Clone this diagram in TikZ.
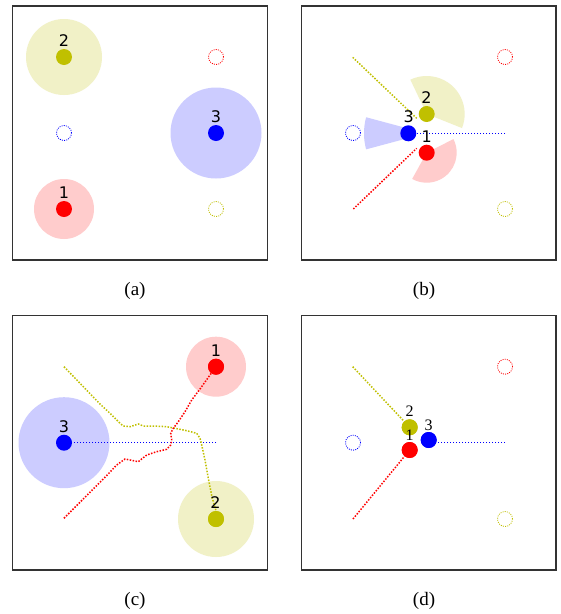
\documentclass[tikz,border=0pt]{standalone}
\usepackage{fontspec}
\setmainfont{Liberation Serif}
\newfontfamily\labfont{DejaVu Sans}
\definecolor{cy}{RGB}{192,192,0}
\begin{document}
\begin{tikzpicture}[x=1pt,y=-1pt,
  panel/.style={draw=black!80, line width=1.2pt},
  dotnode/.style={circle, fill=#1, minimum size=16pt, inner sep=0pt},
  ghost/.style={circle, draw=#1, line width=0.8pt, dash pattern=on 1pt off 1.2pt, minimum size=15pt, inner sep=0pt},
  traj/.style={draw=#1, line width=1.5pt, dash pattern=on 1.5pt off 1.5pt},
  lab/.style={font=\labfont\fontsize{16}{16}\selectfont, inner sep=0pt},
  labd/.style={font=\fontsize{16}{16}\selectfont, inner sep=0pt},
  captext/.style={font=\fontsize{19}{19}\selectfont, inner sep=0pt}
]
\useasboundingbox (0,0) rectangle (561,614);
\fill[white] (0,0) rectangle (561,614);

% ---------------- (a)
\draw[panel] (12.3,6) rectangle (267.3,260);
\node[ghost=red] (ag1) at (216,57) {};
\node[ghost=blue] (ag3) at (64,133) {};
\node[ghost=cy] (ag2) at (216,209) {};
\fill[cy!22] (64,57) circle (38pt);
\fill[blue!20] (216,133) circle (45.5pt);
\fill[red!20] (64,209) circle (30pt);
\node[dotnode=cy] (a2) at (64,57) {};
\node[dotnode=blue] (a3) at (216,133) {};
\node[dotnode=red] (a1) at (64,209) {};
\node[lab] (a2l) at (64,41) {2};
\node[lab] (a3l) at (216,117) {3};
\node[lab] (a1l) at (64,193) {1};
\node[captext] (capa) at (135,290.5) {(a)};

% ---------------- (b)
\draw[panel] (301.7,6) rectangle (556,260);
\node[ghost=red] (bg1) at (505,57) {};
\node[ghost=blue] (bg3) at (353,133) {};
\node[ghost=cy] (bg2) at (505,209) {};
\fill[cy!22] (426.7,114) -- ++(115.5:38pt) arc[start angle=115.5, end angle=-21.7, radius=38pt] -- cycle;
\begin{scope}
  \clip (340,90) rectangle (408.3,180);
  \fill[blue!20] (426,133.3) -- ++(165:62pt) arc[start angle=165, end angle=195, radius=62pt] -- cycle;
\end{scope}
\fill[red!20] (426.7,152.7) -- ++(27:30pt) arc[start angle=27, end angle=-119, radius=30pt] -- cycle;
\coordinate (bs2) at (352.7,57.3);
\coordinate (be2) at (416.7,118.3);
\coordinate (bs1) at (353.3,209);
\coordinate (be1) at (416.7,148.3);
\coordinate (bs3) at (505,133.3);
\draw[traj=cy] (bs2) -- (be2);
\draw[traj=red] (bs1) -- (be1);
\node[dotnode=cy] (b2) at (426.7,114) {};
\node[dotnode=red] (b1) at (426.7,152.7) {};
\draw[traj=blue] (bs3) -- (408.3,133.3) coordinate (b3c);
\node[dotnode=blue] (b3) at (b3c) {};
\node[lab] (b2l) at (426.5,97.7) {2};
\node[lab] (b3l) at (408.7,116.7) {3};
\node[lab] (b1l) at (426.7,136.5) {1};
\node[captext] (capb) at (424,290.5) {(b)};

% ---------------- (c)
\draw[panel] (12.3,315.3) rectangle (267.3,570);
\fill[red!20] (216,366.7) circle (30pt);
\fill[blue!20] (64,442.7) circle (45.5pt);
\fill[cy!22] (216,519) circle (38pt);
\coordinate (cs2) at (64,366.7);
\coordinate (cs1) at (64,518.3);
\coordinate (cs3) at (216,442.7);
\node[dotnode=red] (c1) at (216,366.7) {};
\node[dotnode=blue] (c3) at (64,442.7) {};
\node[dotnode=cy] (c2) at (216,519) {};
\draw[traj=blue] (cs3) -- (c3.east);
\draw[traj=cy] (cs2) -- (100,404) -- (110,413.3) -- (120,423.3) -- (123.3,426) -- (130,426.7)
  -- (138.3,424) -- (143.3,426) -- (153.3,426) -- (166.7,426.7) -- (175,428.3)
  -- (186.7,430.7) -- (196.7,433.3) -- (200,438.3) -- (201.7,445) -- (205,460)
  -- (208.3,478.3) -- (212,497) -- (c2.north);
\draw[traj=red] (cs1) -- (105,477.3) -- (116.7,465) -- (125,459) -- (130,460)
  -- (138.3,461.7) -- (146.7,455) -- (156.7,451.7) -- (166.7,449.3) -- (170.7,445)
  -- (171.7,440) -- (170.7,433.3) -- (173.3,428.3) -- (178.3,421.7) -- (185,411.7)
  -- (191.7,400) -- (200,389) -- (210,375) -- (c1);
\node[dotnode=red] at (216,366.7) {};
\node[dotnode=cy] at (216,519) {};
\node[lab] (c1l) at (216,350.5) {1};
\node[lab] (c3l) at (64,426.5) {3};
\node[lab] (c2l) at (215.5,503) {2};
\node[captext] (capc) at (135,600.5) {(c)};

% ---------------- (d)
\draw[panel] (301.7,315.3) rectangle (556,570);
\node[ghost=red] (dg1) at (505,366.7) {};
\node[ghost=blue] (dg3) at (353,442.7) {};
\node[ghost=cy] (dg2) at (505,519) {};
\coordinate (ds2) at (352.7,366.7);
\coordinate (ds1) at (353,519);
\coordinate (ds3) at (505,442.5);
\node[dotnode=cy] (d2) at (409.7,427.3) {};
\node[dotnode=red] (d1) at (409.7,450) {};
\node[dotnode=blue] (d3) at (428.7,440) {};
\draw[traj=cy] (ds2) -- (d2);
\draw[traj=red] (ds1) -- (d1);
\draw[traj=blue] (ds3) -- (d3 |- ds3);
\node[dotnode=cy] at (409.7,427.3) {};
\node[dotnode=red] at (409.7,450) {};
\node[dotnode=blue] at (428.7,440) {};
\node[labd] (d2l) at (409.7,411) {2};
\node[labd] (d1l) at (409.7,435) {1};
\node[labd] (d3l) at (428.7,425) {3};
\node[captext] (capd) at (424,600.5) {(d)};
\end{tikzpicture}
\end{document}
